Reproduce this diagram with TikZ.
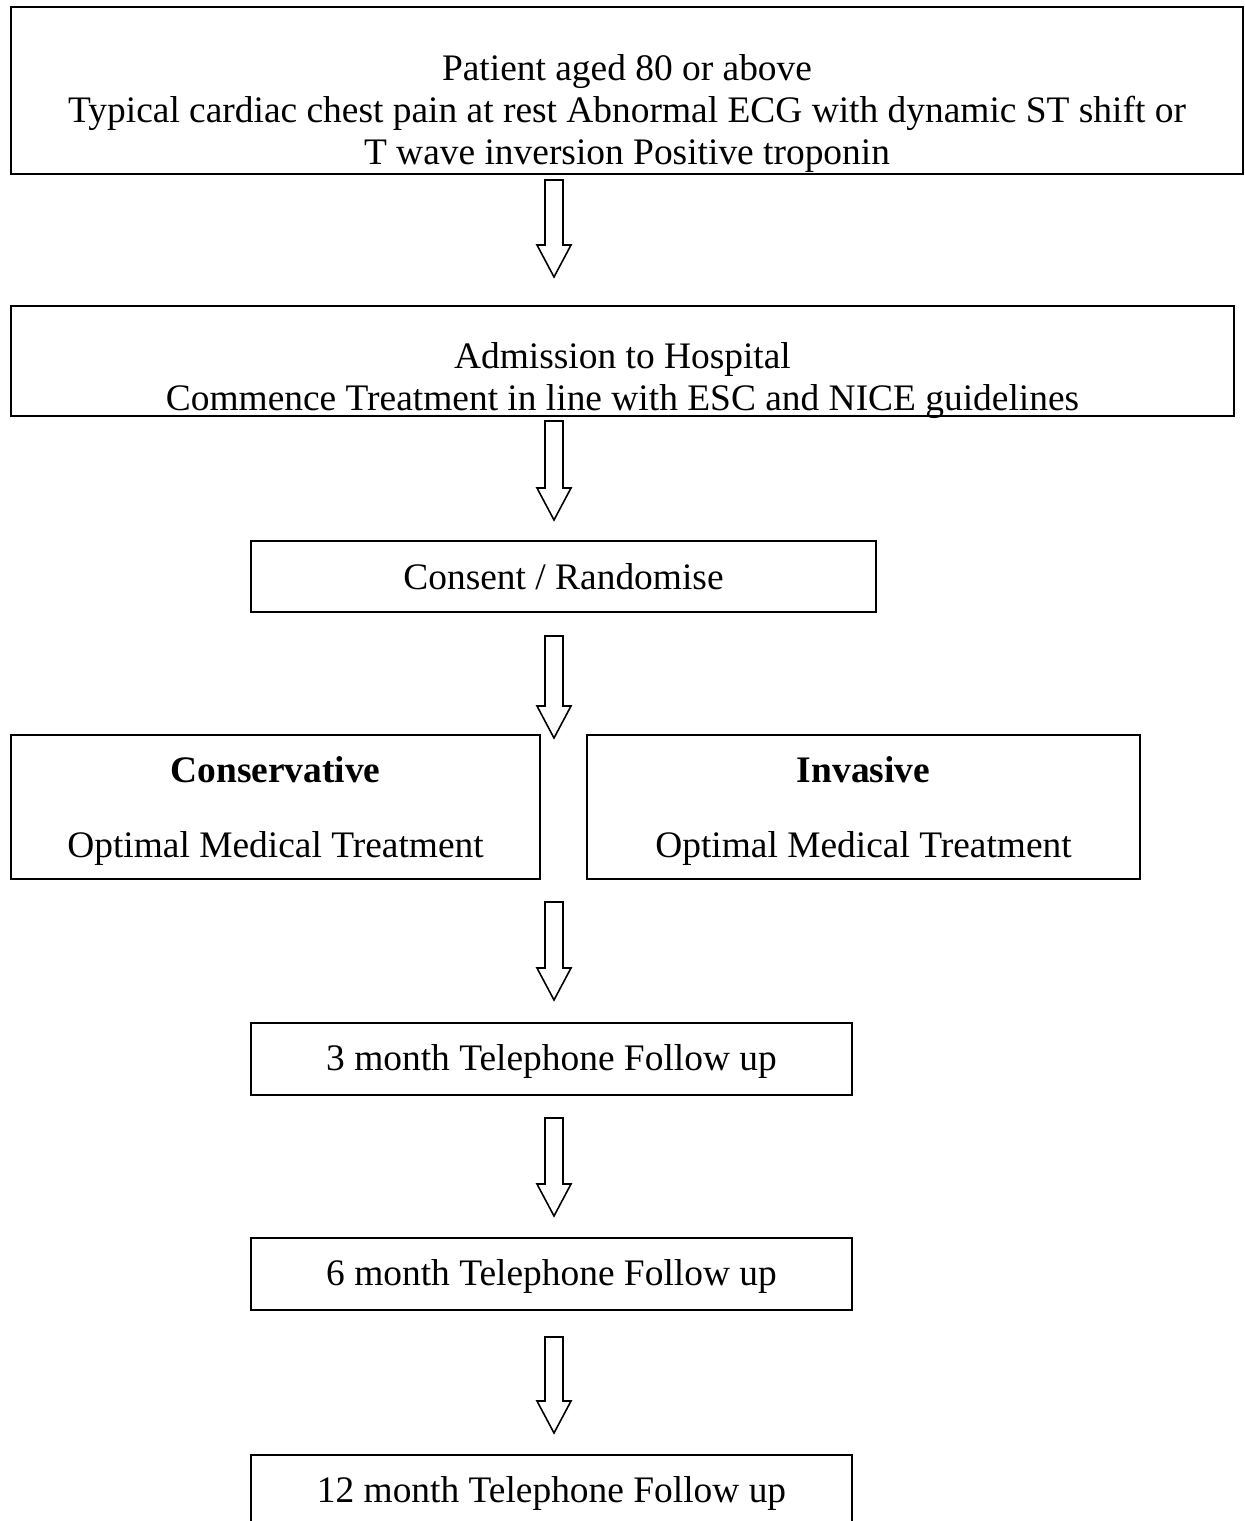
\documentclass[tikz,border=0pt]{standalone}
\usepackage{fontspec}
\setmainfont{Liberation Serif}
\usetikzlibrary{calc}

\tikzset{
  box/.style={draw, line width=1pt, align=center, inner sep=0pt,
    font=\fontsize{21.3}{24}\selectfont},
  fubox/.style={box, minimum width=12.02cm, minimum height=1.44cm,
    text height=16pt, text depth=2.6pt},
  hollow/.style={draw, line width=0.9pt, fill=white, line join=miter}
}
\newcommand{\blockarrow}[2]{%
  \draw[hollow] ($(#1)+(-9,0)$) -- ($(#2)+(-9,-32)$) -- ($(#2)+(-17,-32)$)
    -- (#2) -- ($(#2)+(17,-32)$) -- ($(#2)+(9,-32)$) -- ($(#1)+(9,0)$) -- cycle;}

\begin{document}
\begin{tikzpicture}[x=0.02cm, y=-0.02cm]
\useasboundingbox (0,0) rectangle (1244,1521);

\node[box, minimum width=24.64cm, minimum height=3.34cm] (crit) at (627,90.5) {
  {}\\[17pt]Patient aged 80 or above\\
  Typical cardiac chest pain at rest Abnormal ECG with dynamic ST shift or\\
  T wave inversion Positive troponin};
\node[box, minimum width=24.46cm, minimum height=2.2cm] (admit) at (622.5,361) {
  {}\\[11pt]Admission to Hospital\\
  Commence Treatment in line with ESC and NICE guidelines\\[-21pt]{}};
\node[box, minimum width=12.5cm, minimum height=1.42cm] (consent) at (563.5,576.5)
  {Consent / Randomise};
\node[box, minimum width=10.58cm, minimum height=2.88cm] (cons) at (275.5,807)
  {{}\\[-4.8pt]\textbf{Conservative}\\[18.5pt]Optimal Medical Treatment};
\node[box, minimum width=11.06cm, minimum height=2.88cm] (inv) at (863.5,807)
  {{}\\[-4.8pt]\textbf{Invasive}\\[18.5pt]Optimal Medical Treatment};
\node[fubox] (fu3) at (551.5,1059) {3 month Telephone Follow up};
\node[fubox] (fu6) at (551.5,1274) {6 month Telephone Follow up};
\node[fubox] (fu12) at (551.5,1491) {12 month Telephone Follow up};

% arrow ends
\coordinate (arr1s) at (554,180);  \coordinate (arr1e) at (554,277);
\coordinate (arr2s) at (554,421);  \coordinate (arr2e) at (554,520);
\coordinate (arr3s) at (554,636);  \coordinate (arr3e) at (554,738);
\coordinate (arr4s) at (554,902);  \coordinate (arr4e) at (554,1000);
\coordinate (arr5s) at (554,1118); \coordinate (arr5e) at (554,1216);
\coordinate (arr6s) at (554,1337); \coordinate (arr6e) at (554,1433);

\foreach \i in {1,...,6} {\blockarrow{arr\i s}{arr\i e}}
\end{tikzpicture}
\end{document}
